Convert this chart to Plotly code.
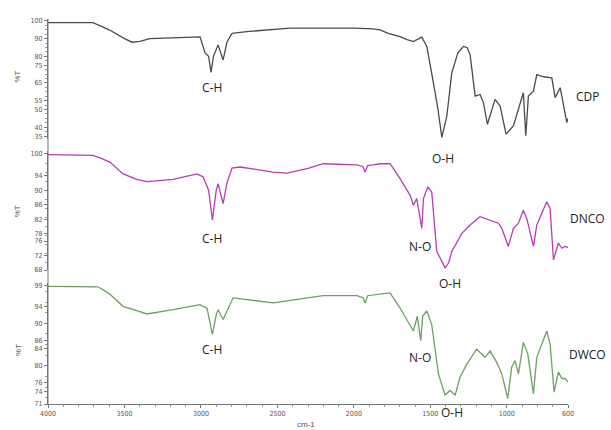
import plotly.graph_objects as go
from plotly.subplots import make_subplots

# ---------------- data ----------------
cdp_wn = [4000, 3850, 3760, 3706, 3600, 3500, 3450, 3400, 3333, 3200, 3006, 2973, 2950, 2934, 2918,
          2888, 2855, 2830, 2797, 2700, 2417, 2200, 2000, 1874, 1829, 1776, 1698, 1652, 1611, 1556,
          1523, 1480, 1450, 1425, 1392, 1360, 1320, 1284, 1260, 1240, 1207, 1175, 1153, 1127, 1100,
          1077, 1044, 1027, 1005, 957, 892, 876, 859, 826, 804, 760, 706, 684, 651, 608, 600]
cdp_t = [99, 99, 99.3, 99, 95, 90, 88, 88.5, 90, 90.5, 91, 82, 80, 71, 80,
         86.5, 78, 88, 93, 94, 96, 96, 96, 95.5, 95, 93, 91.2, 89.5, 88.4, 90.9,
         85.6, 65, 50, 34.3, 46.4, 70.7, 82, 85.6, 85, 81, 57.6, 58.5, 53.9, 41.7, 50,
         55.7, 52, 44.5, 36.1, 40.8, 59.5, 35.2, 57.6, 60.4, 69.7, 68.5, 67.9, 56.7, 62.3, 42.7, 45]

dnco_wn = [4000, 3850, 3706, 3650, 3594, 3509, 3420, 3353, 3182, 3026, 2986, 2950, 2925, 2900, 2888,
           2855, 2830, 2797, 2744, 2528, 2437, 2300, 2201, 1979, 1940, 1927, 1910, 1874, 1829, 1763,
           1698, 1632, 1611, 1589, 1556, 1545, 1517, 1491, 1458, 1436, 1404, 1380, 1360, 1294, 1240,
           1175, 1109, 1055, 1033, 990, 957, 924, 892, 870, 859, 826, 804, 739, 717, 695,
           663, 640, 620, 600]
dnco_t = [99.8, 99.8, 99.6, 98.8, 97.7, 94.5, 93, 92.4, 93, 94.5, 93.7, 90, 81.8, 90, 91.8,
          86.3, 92, 96.1, 96.4, 95, 94.7, 96, 97.3, 97, 96.5, 95, 96.8, 97, 97.3, 97.3,
          93.2, 88.6, 85.9, 87.7, 79.5, 87.7, 90.9, 89.5, 73.1, 71.3, 68.6, 70, 73.1, 78.1, 80.4,
          82.7, 81.8, 80.9, 79.5, 74.5, 79.5, 80.9, 84.5, 82.2, 80.4, 74.5, 80.4, 86.8, 85, 70.8,
          75.4, 74, 74.5, 74.2]

dwco_wn = [4000, 3850, 3673, 3600, 3509, 3420, 3353, 3182, 3006, 2960, 2925, 2900, 2888, 2855, 2830,
           2790, 2528, 2300, 2201, 1979, 1940, 1927, 1910, 1783, 1763, 1698, 1632, 1611, 1585, 1563,
           1550, 1523, 1491, 1447, 1404, 1371, 1338, 1306, 1262, 1197, 1142, 1109, 1066, 1033, 994,
           968, 946, 924, 892, 863, 826, 804, 739, 717, 691, 663, 640, 618, 600]
dwco_t = [98.7, 98.7, 98.6, 97, 94, 93, 92.2, 93.2, 94.4, 93.5, 87.4, 92, 93.2, 90.9, 93,
          96, 94.8, 96, 96.5, 96.5, 96, 94.8, 96.5, 97.1, 97.1, 93.6, 89.7, 88.2, 91.7, 85.9,
          91.7, 92.9, 89.7, 78.1, 73.1, 74.2, 73.1, 77.3, 80.4, 83.9, 82, 83.5, 80.8, 78.1, 72.3,
          79.7, 81.2, 78.1, 85.5, 82.8, 73.4, 82, 88.2, 85.1, 73.8, 78.5, 77, 77, 76.2]

series_names = ["CDP", "DNCO", "DWCO"]
cdp_ticks = [100, 90, 80, 75, 65, 55, 50, 40, 35]
dnco_ticks = [100, 94, 90, 86, 82, 78, 76, 72, 68]
dwco_ticks = [99, 94, 90, 86, 84, 80, 76, 74, 71]
x_ticks = [4000, 3500, 3000, 2500, 2000, 1500, 1000, 600]

peak_labels = ["C-H", "O-H", "C-H", "N-O", "O-H", "C-H", "N-O", "O-H"]

# ---------------- figure ----------------
fig = make_subplots(rows=3, cols=1)

colors = ["#4a4a4a", "#b23fb2", "#6f9e62"]
for i, (wn, t) in enumerate([(cdp_wn, cdp_t), (dnco_wn, dnco_t), (dwco_wn, dwco_t)]):
    fig.add_trace(go.Scatter(x=wn, y=t, mode="lines", name=series_names[i],
                             line=dict(color=colors[i], width=1.3), showlegend=False),
                  row=i + 1, col=1)

domains = [[0.688, 1.0], [0.348, 0.657], [0.0, 0.314]]
ranges = [[33.3, 101.1], [68.0, 100.8], [71.0, 99.47]]
ticks = [cdp_ticks, dnco_ticks, dwco_ticks]
tickfont = dict(family="Liberation Sans Narrow, DejaVu Sans Condensed, Arial", size=7, color="#555")

for i in range(3):
    yname = "yaxis" if i == 0 else f"yaxis{i + 1}"
    xname = "xaxis" if i == 0 else f"xaxis{i + 1}"
    fig.layout[yname].update(domain=domains[i], range=ranges[i], tickvals=ticks[i],
                             ticktext=[str(v) for v in ticks[i]],
                             showline=True, linecolor="#777", linewidth=1,
                             ticks="outside", ticklen=3, tickcolor="#777",
                             showgrid=False, zeroline=False, tickfont=tickfont,
                             minor=dict(ticks="outside", ticklen=2, tickcolor="#999", dtick=2.5))
    fig.layout[xname].update(domain=[0, 1], range=[4000, 600], showgrid=False, zeroline=False)
    if i < 2:
        fig.layout[xname].update(visible=False)
    else:
        fig.layout[xname].update(tickvals=x_ticks, ticktext=[str(v) for v in x_ticks],
                                 showline=True, linecolor="#777", linewidth=1,
                                 ticks="outside", ticklen=3, tickcolor="#777", tickfont=tickfont,
                                 minor=dict(ticks="outside", ticklen=2, tickcolor="#999", dtick=100))

# continuous left axis line
fig.add_shape(type="line", xref="paper", yref="paper", x0=0, x1=0, y0=0, y1=1,
              line=dict(color="#777", width=1))

ann_font = dict(family="Open Sans, Noto Sans, Arial", size=12, color="#222")
# peak labels (paper coords)
peak_pos = [(0.315, 0.822), (0.760, 0.637), (0.315, 0.430), (0.715, 0.410), (0.773, 0.312),
            (0.315, 0.142), (0.715, 0.121), (0.777, -0.021)]
for txt, (px, py) in zip(peak_labels, peak_pos):
    fig.add_annotation(text=txt, x=px, y=py, xref="paper", yref="paper", showarrow=False,
                       font=ann_font, xanchor="center", yanchor="middle")

# series labels on the right
name_pos = [0.799, 0.482, 0.129]
for name, py in zip(series_names, name_pos):
    fig.add_annotation(text=name, x=1.038, y=py, xref="paper", yref="paper", showarrow=False,
                       font=ann_font, xanchor="center", yanchor="middle")

# %T axis titles
for py in [0.85, 0.50, 0.14]:
    fig.add_annotation(text="%T", x=-0.058, y=py, xref="paper", yref="paper", showarrow=False,
                       textangle=-90, font=dict(family="Liberation Sans Narrow, Arial", size=8, color="#555"),
                       xanchor="center", yanchor="middle")

fig.add_annotation(text="cm-1", x=0.497, y=-0.052, xref="paper", yref="paper", showarrow=False,
                   font=dict(family="Liberation Sans Narrow, Arial", size=8, color="#555"),
                   xanchor="center", yanchor="middle")

fig.update_layout(width=611, height=430, margin=dict(l=48, r=43, t=19, b=23),
                  paper_bgcolor="white", plot_bgcolor="white", showlegend=False)

fig.write_html("out.html")
